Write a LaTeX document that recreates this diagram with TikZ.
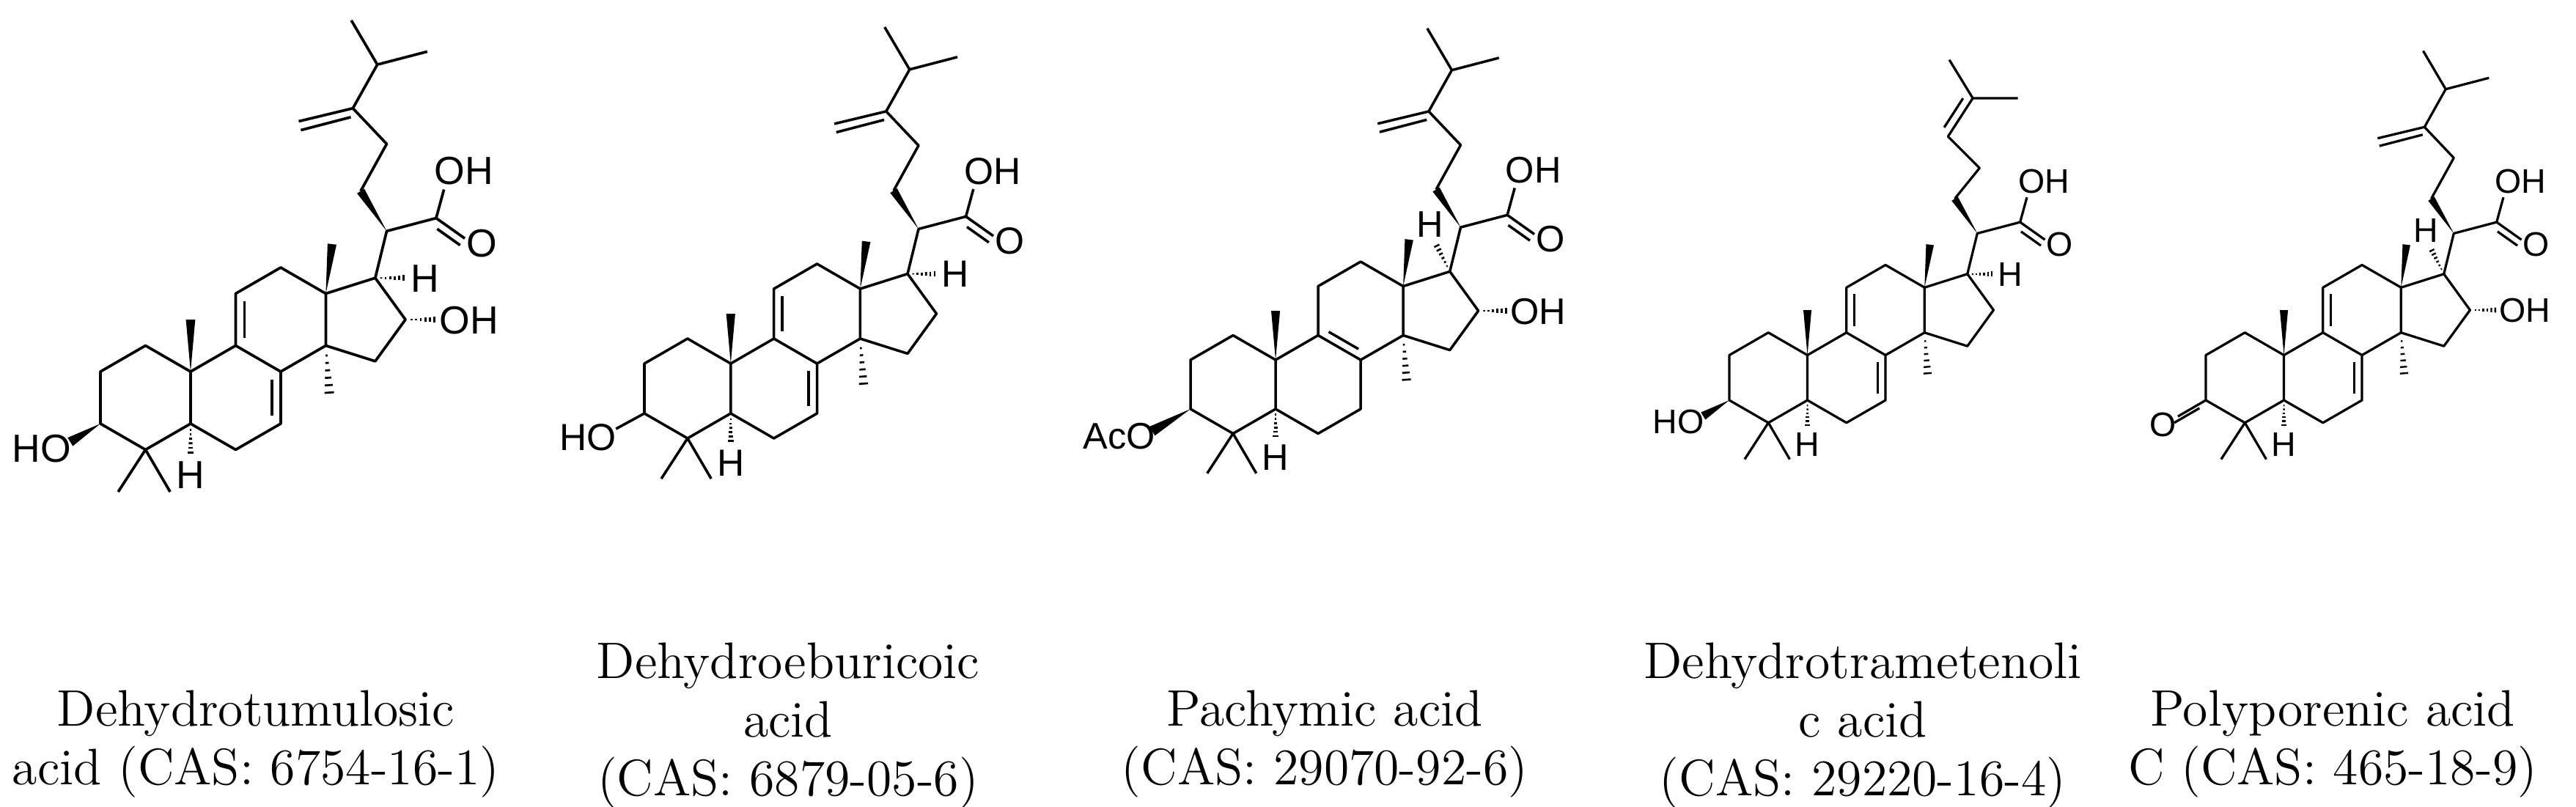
\documentclass[tikz,border=0pt]{standalone}
\usepackage{fontspec}
\newfontfamily\chemf{Liberation Sans}
\usetikzlibrary{calc}
\newcommand\wdg[3][0.09]{\fill ($(#3)!#1!90:(#2)$) -- (#2) -- ($(#3)!#1!-90:(#2)$) -- cycle;}
\newcommand\hsh[2]{\foreach \t in {0.2,0.35,0.5,0.65,0.8,0.95}{\path ($(#1)!\t!(#2)$) coordinate (hp);
  \draw[hb] ($(hp)!0.1!90:(#1)$) -- ($(hp)!0.1!-90:(#1)$);}}
\newcommand\skel[1]{%
 \coordinate (C3) at (0,0); \coordinate (C2) at (0,1); \coordinate (C1) at (0.866,1.5);
 \coordinate (C10) at (1.732,1); \coordinate (C5) at (1.732,0); \coordinate (C4) at (0.866,-0.5);
 \coordinate (C6) at (2.598,-0.5); \coordinate (C7) at (3.464,0); \coordinate (C8) at (3.464,1);
 \coordinate (C9) at (2.598,1.5); \coordinate (C11) at (2.598,2.5); \coordinate (C12) at (3.464,3);
 \coordinate (C13) at (4.33,2.5); \coordinate (C14) at (4.33,1.5); \coordinate (C15) at (5.28,1.2);
 \coordinate (C16) at (5.86,2.0); \coordinate (C17) at (5.28,2.8);
 \coordinate (Me4a) at (0.34,-1.31); \coordinate (Me4b) at (1.34,-1.31);
 \coordinate (C19) at (1.732,2.0); \coordinate (C18) at (4.45,3.45); \coordinate (C30) at (4.4,0.55);
 \coordinate (H5e) at (1.732,-0.58);
 \draw[bd] (C4)--(C3)--(C2)--(C1)--(C10)--(C5)--cycle;
 \draw[bd] (C5)--(C6)--(C7)--(C8)--(C9)--(C10);
 \draw[bd] (C8)--(C14)--(C13)--(C12)--(C11)--(C9);
 \draw[bd] (C14)--(C15)--(C16)--(C17)--(C13);
 \draw[bd] (C4)--(Me4a) (C4)--(Me4b);
 \wdg{C10}{C19} \wdg{C13}{C18} \hsh{C14}{C30} \hsh{C5}{H5e}
 \node[lbl,anchor=base] (H5) at (1.732,-1.25) {H};
 \ifnum#1=1
  \draw[bd] (3.294,0.15)--(3.294,0.85);
  \draw[bd] (2.768,1.65)--(2.768,2.35);
 \else
  \draw[bd] ($(C8)!0.15!(C9)+(0.085,0.147)$)--($(C8)!0.85!(C9)+(0.085,0.147)$);
 \fi}
\newcommand\acid{%
 \coordinate (C20) at (5.5,3.7); \coordinate (C21) at (6.45,3.95); \coordinate (C22) at (5.0,4.47);
 \coordinate (Ob) at (6.6,4.5); \coordinate (Od) at (7.0,3.56);
 \draw[bd] (C17)--(C20)--(C21)--(Ob);
 \draw[bd] (C21)--(Od);
 \draw[bd] ($(C21)!0.2!(Od)+(-0.09,-0.13)$)--($(Od)+(-0.09,-0.13)$);
 \wdg{C20}{C22}
 \node[lbl,anchor=base west] (OHa) at (6.4,4.6) {OH};
 \node[lbl,anchor=base west] (Oa) at (7.02,3.2) {O};}
\newcommand\chainA{%
 \coordinate (C23) at (5.5,5.375); \coordinate (C24) at (4.85,6.06); \coordinate (CH2) at (3.81,5.81);
 \coordinate (C25) at (5.32,6.9); \coordinate (Mea) at (4.82,7.75); \coordinate (Meb) at (6.28,7.15);
 \draw[bd] (C22)--(C23)--(C24)--(C25)--(Mea) (C25)--(Meb);
 \draw[bd] (C24)--(CH2);
 \draw[bd] ($(C24)+(-0.04,-0.17)$)--($(CH2)+(0.04,-0.17)$);}
\newcommand\chainB{%
 \coordinate (C23) at (5.55,5.15); \coordinate (C24) at (4.85,5.85);
 \coordinate (C25) at (5.4,6.7); \coordinate (Mea) at (4.88,7.55); \coordinate (Meb) at (6.4,6.7);
 \draw[bd] (C22)--(C23)--(C24)--(C25)--(Mea) (C25)--(Meb);
 \draw[bd] ($(C24)!0.12!(C25)+(-0.15,0.1)$)--($(C24)!0.88!(C25)+(-0.15,0.1)$);}
\newcommand\Hright{\coordinate (H17e) at (5.85,2.8); \hsh{C17}{H17e}
 \node[lbl,anchor=base west] (H17) at (5.95,2.53) {H};}
\newcommand\Hleft{\coordinate (H17e) at (5.0,3.35); \hsh{C17}{H17e}
 \node[lbl,anchor=base] (H17) at (4.88,3.5) {H};}
\newcommand\OHsixteen{\coordinate (O16e) at (6.45,2.0); \hsh{C16}{O16e}
 \node[lbl,anchor=base west] (OH16) at (6.5,1.73) {OH};}
\tikzset{
 captxt/.style={font=\fontsize{14pt}{16pt}\selectfont, inner sep=0pt, anchor=base},
}
\begin{document}
\begin{tikzpicture}
\useasboundingbox[fill=white] (0,0) rectangle (702.8pt,-220pt);
% molecule 1
\begin{scope}[shift={(27.4pt,-115.6pt)}, x=14.2pt, y=14.2pt, name prefix=m1-]
 \tikzset{bd/.style={line width=0.74pt, line join=round}, hb/.style={line width=0.55pt},
  lbl/.style={font=\chemf\fontsize{10.7pt}{10.7pt}\selectfont, inner sep=0pt}}
 \skel{1} \acid \chainA \Hright \OHsixteen
 \coordinate (O3e) at (-0.58,-0.35); \wdg[0.14]{C3}{O3e}
 \node[lbl,anchor=base east] (HO3) at (-0.55,-0.74) {HO};
\end{scope}
% molecule 2
\begin{scope}[shift={(175.8pt,-112.8pt)}, x=13.6pt, y=13.6pt, name prefix=m2-]
 \tikzset{bd/.style={line width=0.71pt, line join=round}, hb/.style={line width=0.53pt},
  lbl/.style={font=\chemf\fontsize{10.3pt}{10.3pt}\selectfont, inner sep=0pt}}
 \skel{1} \acid \chainA \Hright
 \coordinate (O3e) at (-0.57,-0.31); \draw[bd] (C3)--(O3e);
 \node[lbl,anchor=base east] (HO3) at (-0.55,-0.74) {HO};
\end{scope}
% molecule 3
\begin{scope}[shift={(324.8pt,-111.6pt)}, x=13.4pt, y=13.4pt, name prefix=m3-]
 \tikzset{bd/.style={line width=0.7pt, line join=round}, hb/.style={line width=0.52pt},
  lbl/.style={font=\chemf\fontsize{10.1pt}{10.1pt}\selectfont, inner sep=0pt}}
 \skel{2} \acid \chainA \Hleft \OHsixteen
 \coordinate (O3e) at (-0.78,-0.45); \wdg[0.12]{C3}{O3e}
 \node[lbl,anchor=base east] (AcO3) at (-0.7,-0.82) {AcO};
\end{scope}
% molecule 4
\begin{scope}[shift={(471.8pt,-109.2pt)}, x=12.3pt, y=12.3pt, name prefix=m4-]
 \tikzset{bd/.style={line width=0.65pt, line join=round}, hb/.style={line width=0.48pt},
  lbl/.style={font=\chemf\fontsize{9.3pt}{9.3pt}\selectfont, inner sep=0pt}}
 \skel{1} \acid \chainB \Hright
 \coordinate (O3e) at (-0.58,-0.35); \wdg[0.14]{C3}{O3e}
 \node[lbl,anchor=base east] (HO3) at (-0.55,-0.74) {HO};
\end{scope}
% molecule 5
\begin{scope}[shift={(601.8pt,-109.2pt)}, x=12.3pt, y=12.3pt, name prefix=m5-]
 \tikzset{bd/.style={line width=0.65pt, line join=round}, hb/.style={line width=0.48pt},
  lbl/.style={font=\chemf\fontsize{9.3pt}{9.3pt}\selectfont, inner sep=0pt}}
 \skel{1} \acid \chainA \Hleft \OHsixteen
 \coordinate (O3e) at (-0.62,-0.36); \draw[bd] (C3)--(O3e);
 \draw[bd] ($(C3)!0.1!(O3e)+(-0.08,-0.14)$)--($(O3e)+(-0.08,-0.14)$);
 \node[lbl,anchor=base] (O3) at (-0.95,-0.8) {O};
\end{scope}
% captions
\node[captxt] (t1a) at (69.8pt,-198pt) {Dehydrotumulosic};
\node[captxt] (t1b) at (69.8pt,-214pt) {acid (CAS: 6754-16-1)};
\node[captxt] (t2a) at (215pt,-185pt) {Dehydroeburicoic};
\node[captxt] (t2b) at (215pt,-201pt) {acid};
\node[captxt] (t2c) at (215pt,-217pt) {(CAS: 6879-05-6)};
\node[captxt] (t3a) at (361.4pt,-198pt) {Pachymic acid};
\node[captxt] (t3b) at (361.4pt,-214pt) {(CAS: 29070-92-6)};
\node[captxt] (t4a) at (508.2pt,-185pt) {Dehydrotrametenoli};
\node[captxt] (t4b) at (508.2pt,-201pt) {c acid};
\node[captxt] (t4c) at (508.2pt,-217pt) {(CAS: 29220-16-4)};
\node[captxt] (t5a) at (636.4pt,-198pt) {Polyporenic acid};
\node[captxt] (t5b) at (636.4pt,-214pt) {C (CAS: 465-18-9)};
\end{tikzpicture}
\end{document}
